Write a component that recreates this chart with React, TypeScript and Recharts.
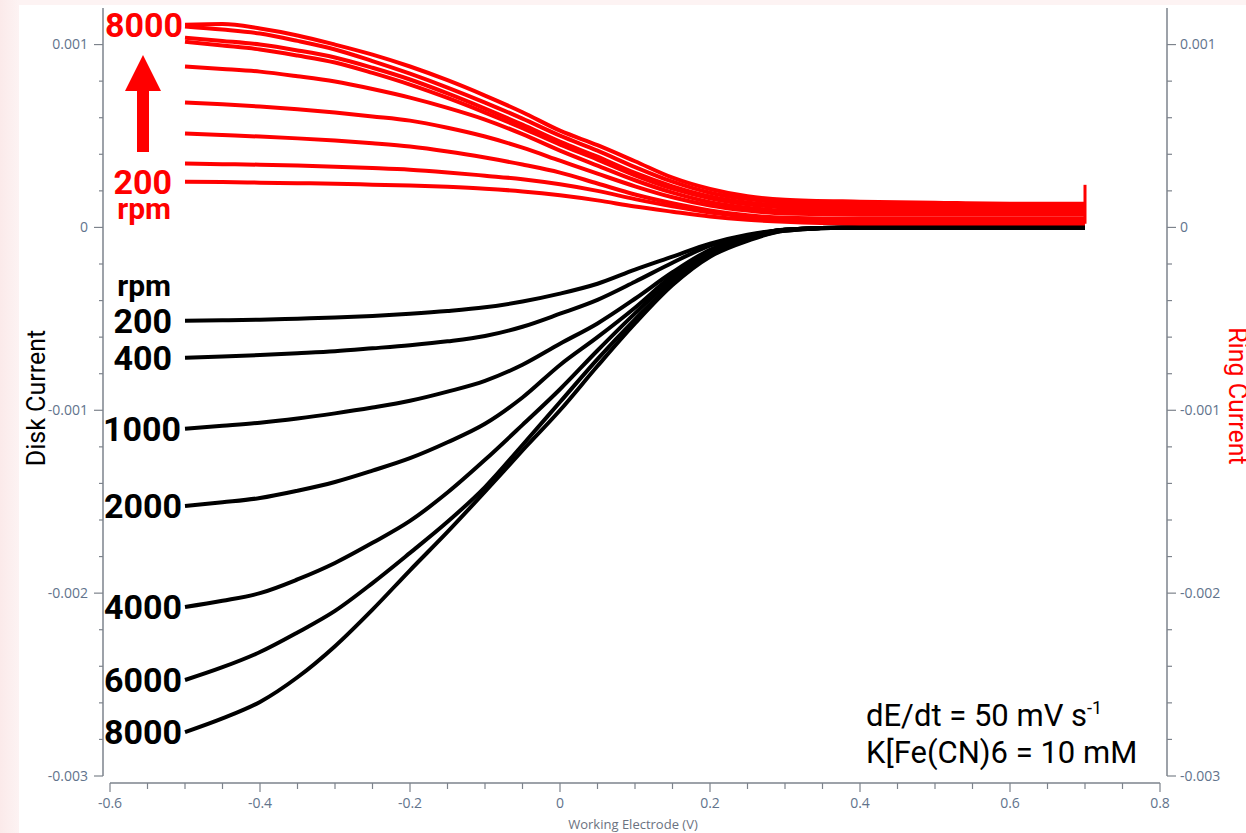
import React from 'react';
import { LineChart, Line, XAxis, YAxis } from 'recharts';

const potentials = [
  -0.5, -0.45, -0.4, -0.35, -0.3, -0.25, -0.2, -0.15, -0.1, -0.05, 0, 0.05, 0.1, 0.15, 0.2, 0.25, 0.3, 0.4, 0.5, 0.6, 0.7,
];

// Disk current (mA) per rotation rate
const disk200 = [-0.51, -0.508, -0.505, -0.499, -0.493, -0.484, -0.472, -0.457, -0.437, -0.405, -0.362, -0.308, -0.231, -0.16, -0.089, -0.04, -0.012, -0.001, 0, 0, 0];
const disk400 = [-0.713, -0.706, -0.698, -0.688, -0.677, -0.661, -0.644, -0.623, -0.594, -0.543, -0.472, -0.396, -0.297, -0.193, -0.1, -0.046, -0.012, -0.001, 0, 0, 0];
const disk1000 = [-1.101, -1.085, -1.068, -1.045, -1.017, -0.985, -0.948, -0.898, -0.839, -0.751, -0.636, -0.525, -0.39, -0.245, -0.122, -0.051, -0.012, -0.001, 0, 0, 0];
const disk2000 = [-1.523, -1.503, -1.48, -1.44, -1.392, -1.33, -1.262, -1.175, -1.074, -0.93, -0.752, -0.6, -0.439, -0.264, -0.138, -0.056, -0.012, -0.001, 0, 0, 0];
const disk4000 = [-2.076, -2.042, -2.0, -1.925, -1.835, -1.725, -1.605, -1.45, -1.271, -1.08, -0.885, -0.673, -0.47, -0.284, -0.144, -0.062, -0.012, -0.001, 0, 0, 0];
const disk6000 = [-2.475, -2.405, -2.322, -2.215, -2.097, -1.945, -1.78, -1.61, -1.42, -1.19, -0.955, -0.72, -0.503, -0.302, -0.155, -0.067, -0.018, -0.001, 0, 0, 0];
const disk8000 = [-2.76, -2.685, -2.595, -2.46, -2.29, -2.09, -1.875, -1.665, -1.445, -1.22, -1.0, -0.758, -0.525, -0.315, -0.16, -0.073, -0.018, -0.001, 0, 0, 0];

// Ring current (mA), forward / reverse traces where they separate
const ring8000a = [1.109, 1.112, 1.088, 1.05, 1.0, 0.945, 0.88, 0.805, 0.721, 0.63, 0.529, 0.45, 0.362, 0.272, 0.21, 0.17, 0.152, 0.141, 0.135, 0.13, 0.13];
const ring8000b = [1.099, 1.082, 1.06, 1.02, 0.973, 0.91, 0.841, 0.765, 0.683, 0.595, 0.502, 0.42, 0.33, 0.25, 0.19, 0.155, 0.137, 0.13, 0.125, 0.119, 0.119];
const ring6000a = [1.038, 1.02, 1.0, 0.968, 0.929, 0.873, 0.809, 0.733, 0.65, 0.562, 0.469, 0.387, 0.298, 0.225, 0.17, 0.137, 0.12, 0.114, 0.108, 0.108, 0.108];
const ring6000b = [1.016, 0.995, 0.973, 0.94, 0.902, 0.845, 0.781, 0.708, 0.628, 0.543, 0.453, 0.371, 0.285, 0.212, 0.16, 0.127, 0.109, 0.103, 0.097, 0.097, 0.097];
const ring4000 = [0.88, 0.867, 0.852, 0.827, 0.798, 0.757, 0.71, 0.654, 0.59, 0.51, 0.42, 0.338, 0.258, 0.19, 0.138, 0.108, 0.092, 0.086, 0.086, 0.086, 0.086];
const ring2000 = [0.683, 0.673, 0.661, 0.646, 0.628, 0.607, 0.584, 0.545, 0.497, 0.436, 0.365, 0.294, 0.225, 0.165, 0.12, 0.092, 0.076, 0.07, 0.07, 0.07, 0.07];
const ring1000 = [0.513, 0.505, 0.497, 0.487, 0.475, 0.46, 0.442, 0.415, 0.382, 0.344, 0.3, 0.24, 0.18, 0.132, 0.093, 0.066, 0.053, 0.048, 0.048, 0.048, 0.048];
const ring400 = [0.349, 0.346, 0.343, 0.338, 0.332, 0.325, 0.316, 0.301, 0.283, 0.264, 0.236, 0.2, 0.155, 0.115, 0.082, 0.059, 0.043, 0.037, 0.037, 0.037, 0.037];
const ring200 = [0.25, 0.248, 0.245, 0.242, 0.239, 0.234, 0.229, 0.222, 0.212, 0.197, 0.176, 0.148, 0.114, 0.086, 0.06, 0.042, 0.031, 0.022, 0.021, 0.021, 0.021];

// vertical step at the switching potential
const switchPotential = [0.7, 0.7];
const switchRing = [0.02, 0.233];

const xTicks = [
  -0.6, -0.55, -0.5, -0.45, -0.4, -0.35, -0.3, -0.25, -0.2, -0.15, -0.1, -0.05, 0, 0.05, 0.1,
  0.15, 0.2, 0.25, 0.3, 0.35, 0.4, 0.45, 0.5, 0.55, 0.6, 0.65, 0.7, 0.75, 0.8,
];
const yTicks = [
  -0.003, -0.0028, -0.0026, -0.0024, -0.0022, -0.002, -0.0018, -0.0016, -0.0014, -0.0012, -0.001,
  -0.0008, -0.0006, -0.0004, -0.0002, 0, 0.0002, 0.0004, 0.0006, 0.0008, 0.001,
];

const W = 1246;
const H = 833;
const PLOT = { left: 103, right: 1167, top: 8, bottom: 783 };
const PAD = 7;
const AXIS = '#7d838c';
const TICK_TEXT = '#62738c';
const TICK_FONT = '"Open Sans", sans-serif';
const LABEL_FONT = 'Roboto, sans-serif';

const toSeries = (xs: number[], ys: number[]) => xs.map((x, i) => ({ x, y: ys[i] / 1000 }));

const isMajorX = (v: number) => Math.abs(v * 5 - Math.round(v * 5)) < 1e-6;
const isMajorY = (v: number) => Math.abs(v * 1000 - Math.round(v * 1000)) < 1e-6;
const fmtX = (v: number) => String(+v.toFixed(1));
const fmtY = (v: number) => String(+v.toFixed(3));

const XTick = (props: any) => {
  const { x, y, payload } = props;
  const v = payload.value;
  const major = isMajorX(v);
  return (
    <g>
      {v === xTicks[0] && (
        <line x1={x} x2={x + (PLOT.right - PLOT.left - 2 * PAD)} y1={y} y2={y} stroke={AXIS} strokeWidth={1.5} />
      )}
      <line x1={x} x2={x} y1={y} y2={y + (major ? 9 : 6)} stroke={AXIS} strokeWidth={1.2} />
      {major && (
        <text x={x} y={y + 25} textAnchor="middle" fontSize={14} fill={TICK_TEXT} fontFamily={TICK_FONT}>
          {fmtX(v)}
        </text>
      )}
    </g>
  );
};

const LeftTick = (props: any) => {
  const { x, y, payload } = props;
  const v = payload.value;
  const major = isMajorY(v);
  return (
    <g>
      {v === yTicks[0] && <line x1={x} x2={x} y1={y} y2={PLOT.top} stroke={AXIS} strokeWidth={1.5} />}
      <line x1={x - (major ? 9 : 4)} x2={x} y1={y} y2={y} stroke={AXIS} strokeWidth={1.2} />
      {major && (
        <text x={x - 15} y={y} dy="0.35em" textAnchor="end" fontSize={14} fill={TICK_TEXT} fontFamily={TICK_FONT}>
          {fmtY(v)}
        </text>
      )}
    </g>
  );
};

const RightTick = (props: any) => {
  const { x, y, payload } = props;
  const v = payload.value;
  const major = isMajorY(v);
  return (
    <g>
      {v === yTicks[0] && <line x1={x} x2={x} y1={y} y2={PLOT.top} stroke={AXIS} strokeWidth={1.5} />}
      <line x1={x} x2={x + (major ? 9 : 5)} y1={y} y2={y} stroke={AXIS} strokeWidth={1.2} />
      {major && (
        <text x={x + 13} y={y} dy="0.35em" textAnchor="start" fontSize={14} fill={TICK_TEXT} fontFamily={TICK_FONT}>
          {fmtY(v)}
        </text>
      )}
    </g>
  );
};

// rpm label drawn at the first point of a curve
const startLabel = (text: string, color: string, gap: number, extra?: 'above' | 'below') => (p: any) => {
  if (p.index !== 0) return <g key={`l-${p.index}`} />;
  return (
    <g key="start">
      <text
        x={p.x - gap}
        y={p.y}
        dy="0.36em"
        textAnchor="end"
        fontSize={34}
        fontWeight={700}
        fill={color}
        fontFamily={LABEL_FONT}
      >
        {text}
      </text>
      {extra && (
        <text
          x={p.x - gap - 1}
          y={p.y + (extra === 'above' ? -34 : 28)}
          dy="0.3em"
          textAnchor="end"
          fontSize={30}
          fontWeight={700}
          fill={color}
          fontFamily={LABEL_FONT}
        >
          rpm
        </text>
      )}
    </g>
  );
};

const diskCurves = [
  { key: 'd200', ys: disk200, label: startLabel('200', '#000', 13, 'above') },
  { key: 'd400', ys: disk400, label: startLabel('400', '#000', 13) },
  { key: 'd1000', ys: disk1000, label: startLabel('1000', '#000', 4) },
  { key: 'd2000', ys: disk2000, label: startLabel('2000', '#000', 3) },
  { key: 'd4000', ys: disk4000, label: startLabel('4000', '#000', 3) },
  { key: 'd6000', ys: disk6000, label: startLabel('6000', '#000', 3) },
  { key: 'd8000', ys: disk8000, label: startLabel('8000', '#000', 3) },
];

const ringCurves = [
  { key: 'r200', ys: ring200, label: startLabel('200', '#ff0000', 13, 'below') },
  { key: 'r400', ys: ring400 },
  { key: 'r1000', ys: ring1000 },
  { key: 'r2000', ys: ring2000 },
  { key: 'r4000', ys: ring4000 },
  { key: 'r6000b', ys: ring6000b },
  { key: 'r6000a', ys: ring6000a },
  { key: 'r8000b', ys: ring8000b },
  { key: 'r8000a', ys: ring8000a, label: startLabel('8000', '#ff0000', 2) },
];

export default function App() {
  return (
    <div
      style={{
        position: 'absolute',
        left: 0,
        top: 0,
        width: W,
        height: H,
        background: 'linear-gradient(90deg, #fbeaea 0px, #fdf3f3 19px, #fdf3f3 100%)',
        fontFamily: LABEL_FONT,
      }}
    >
      <div style={{ position: 'absolute', left: 19, top: 5, width: W - 19, height: H - 5, background: '#fff' }} />
      <div style={{ position: 'absolute', left: 0, top: 0 }}>
        <LineChart
          width={W}
          height={H}
          margin={{ top: PLOT.top, left: PLOT.left - 60, right: W - PLOT.right - 60, bottom: H - PLOT.bottom - 40 }}
        >
          <XAxis
            type="number"
            dataKey="x"
            domain={[-0.6, 0.8]}
            ticks={xTicks}
            interval={0}
            allowDataOverflow
            padding={{ left: PAD, right: PAD }}
            height={40}
            axisLine={false}
            tickLine={false}
            tickSize={0}
            tickMargin={0}
            tick={<XTick />}
          />
          <YAxis
            yAxisId="disk"
            type="number"
            domain={[-0.003, 0.0012]}
            ticks={yTicks}
            interval={0}
            allowDataOverflow
            padding={{ top: 0, bottom: PAD }}
            width={60}
            axisLine={false}
            tickLine={false}
            tickSize={0}
            tickMargin={0}
            tick={<LeftTick />}
          />
          <YAxis
            yAxisId="ring"
            orientation="right"
            type="number"
            domain={[-0.003, 0.0012]}
            ticks={yTicks}
            interval={0}
            allowDataOverflow
            padding={{ top: 0, bottom: PAD }}
            width={60}
            axisLine={false}
            tickLine={false}
            tickSize={0}
            tickMargin={0}
            tick={<RightTick />}
          />
          {diskCurves.map((c) => (
            <Line
              key={c.key}
              yAxisId="disk"
              data={toSeries(potentials, c.ys)}
              dataKey="y"
              type="monotone"
              stroke="#000"
              strokeWidth={4}
              dot={false}
              activeDot={false}
              isAnimationActive={false}
              label={c.label}
            />
          ))}
          {ringCurves.map((c) => (
            <Line
              key={c.key}
              yAxisId="ring"
              data={toSeries(potentials, c.ys)}
              dataKey="y"
              type="monotone"
              stroke="#ff0000"
              strokeWidth={4}
              dot={false}
              activeDot={false}
              isAnimationActive={false}
              label={c.label}
            />
          ))}
          <Line
            yAxisId="ring"
            data={toSeries(switchPotential, switchRing)}
            dataKey="y"
            type="linear"
            stroke="#ff0000"
            strokeWidth={3}
            dot={false}
            activeDot={false}
            isAnimationActive={false}
          />
        </LineChart>
      </div>
      <svg
        width={W}
        height={H}
        style={{ position: 'absolute', left: 0, top: 0, pointerEvents: 'none' }}
      >
        {/* increasing rotation rate */}
        <polygon points="137,152 149,152 149,91 161,91 143,55 125,91 137,91" fill="#ff0000" />
        <text
          x={36}
          y={398}
          transform="rotate(-90 36 398)"
          textAnchor="middle"
          dy="0.35em"
          fontSize={25}
          fill="#000"
          fontFamily={LABEL_FONT}
        >
          Disk Current
        </text>
        <text
          x={1238}
          y={396}
          transform="rotate(90 1238 396)"
          textAnchor="middle"
          dy="0.35em"
          fontSize={25}
          fill="#ff0000"
          fontFamily={LABEL_FONT}
        >
          Ring Current
        </text>
        <text x={633} y={829} textAnchor="middle" fontSize={13} fill="#6b7280" fontFamily={TICK_FONT}>
          Working Electrode (V)
        </text>
        <text x={866} y={726} fontSize={31} fill="#000" fontFamily={LABEL_FONT}>
          dE/dt = 50 mV s<tspan dy={-12} fontSize={18}>-1</tspan>
        </text>
        <text x={866} y={763} fontSize={31} fill="#000" fontFamily={LABEL_FONT}>
          K[Fe(CN)6 = 10 mM
        </text>
      </svg>
    </div>
  );
}
